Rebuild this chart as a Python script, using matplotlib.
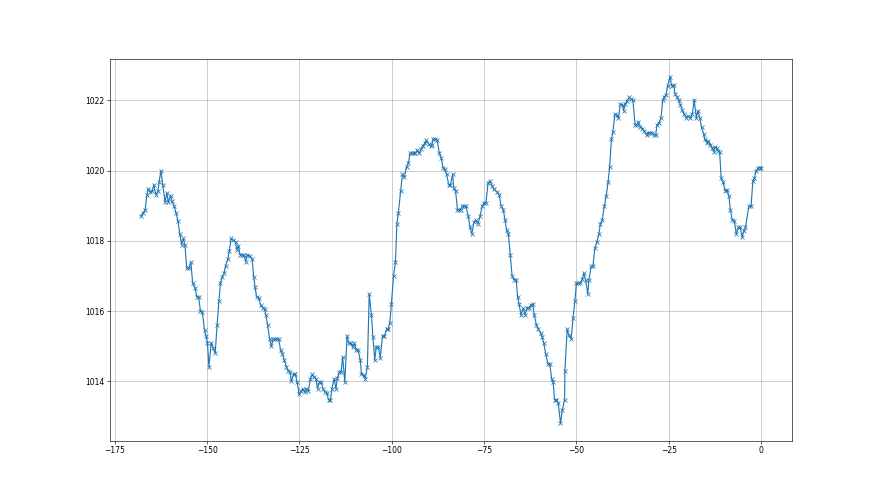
import matplotlib
matplotlib.use("Agg")
import matplotlib.pyplot as plt

# hours relative to now
hours = [
    -167.9, -167.4, -166.8, -166.3, -165.9, -165.4, -164.9, -164.4, -163.9, -163.3,
    -163.0, -162.5, -162.0, -161.4, -160.9, -160.5, -159.9, -159.5, -158.9, -158.4,
    -157.9, -157.4, -156.9, -156.4, -156.0, -155.5, -155.0, -154.4, -153.9, -153.3,
    -152.8, -152.3, -151.8, -151.3, -150.7, -150.3, -149.9, -149.5, -148.9, -148.4,
    -147.8, -147.3, -146.8, -146.4, -145.9, -145.4, -145.0, -144.4, -144.0, -143.5,
    -142.9, -142.3, -142.0, -141.5, -141.1, -140.5, -140.1, -139.5, -139.1, -138.5,
    -137.8, -137.4, -137.0, -136.6, -136.0,
    -135.5, -134.8, -134.4, -134.1, -133.6, -133.1, -132.6, -132.1, -131.6, -131.0,
    -130.6, -130.1, -129.6, -129.1, -128.5, -128.0, -127.5, -127.2, -126.6, -126.1,
    -125.6, -125.1, -124.5, -124.1, -123.6, -123.1, -122.6, -122.0, -121.5, -121.0,
    -120.5, -120.1, -119.6, -119.1, -118.6, -118.1, -117.6, -117.1, -116.6, -116.2,
    -115.6, -115.1, -114.7, -114.2, -113.7, -113.3, -112.7, -112.1, -111.6, -111.0,
    -110.6, -110.1, -109.6, -109.1, -108.5, -108.2, -107.6, -107.2, -106.6, -106.1,
    -105.5, -105.1, -104.6, -104.2, -103.6,
    -103.1, -102.5, -102.0, -101.4, -101.0, -100.5, -100.1, -99.5, -99.0, -98.6,
    -98.2, -97.6, -97.1, -96.6, -96.0, -95.5, -95.0, -94.5, -94.0, -93.6,
    -93.1, -92.6, -92.0, -91.6, -90.9, -90.6, -90.0, -89.5, -89.1, -88.8,
    -88.2, -87.7, -87.1, -86.6, -86.1, -85.7, -85.1, -84.6, -84.1, -83.5,
    -83.2, -82.7, -82.2, -81.9, -81.3, -80.9, -80.4, -79.9, -79.3, -78.8,
    -78.3, -77.7, -77.2, -76.6, -76.1, -75.5, -75.0, -74.5, -73.9, -73.4,
    -72.8, -72.4,
    -71.4, -70.9, -70.4, -69.8, -69.3, -68.9, -68.4, -67.9, -67.4, -66.8,
    -66.3, -65.9, -65.5, -65.0, -64.4, -63.9, -63.3, -62.8, -62.3, -61.8,
    -61.4, -60.8, -60.3, -59.7, -59.3, -58.8, -58.3, -57.7, -57.2, -56.7,
    -56.3, -55.9, -55.4, -54.9, -54.3, -53.8, -53.2, -53.1, -52.5, -52.0,
    -51.4, -50.9, -50.4, -50.0, -49.5, -48.9, -48.4, -48.0, -47.5, -46.9,
    -46.6, -46.0, -45.5, -45.0, -44.4, -43.9, -43.5, -43.0, -42.4, -41.9,
    -41.4, -41.0, -40.5, -40.1, -39.6, -39.1,
    -38.6, -38.1, -37.5, -37.2, -36.8, -36.3, -35.7, -35.2, -34.7, -34.1,
    -33.7, -33.2, -32.7, -32.1, -31.6, -31.0, -30.6, -30.1, -29.5, -29.0,
    -28.5, -28.2, -27.6, -27.1, -26.6, -26.2, -25.7, -25.3, -24.6, -24.2,
    -23.6, -23.3, -22.7, -22.3, -21.8, -21.3, -20.8, -20.2, -19.7, -19.1,
    -18.6, -18.1, -17.5, -17.1, -16.6, -16.1, -15.5, -15.2, -14.6, -14.3,
    -13.7, -13.2, -12.8, -12.5, -12.0, -11.6, -11.2, -10.8, -10.3, -9.7,
    -9.2, -8.7, -8.3, -7.8, -7.2, -6.7, -6.1, -5.6, -5.1, -4.7,
    -4.2, -3.3, -2.7, -2.2, -1.8, -1.3, -0.7, -0.2, 0.0,
]

# pressure (hPa)
pressure = [
    1018.70, 1018.79, 1018.87, 1019.31, 1019.48, 1019.39, 1019.41, 1019.59, 1019.31, 1019.41,
    1019.67, 1020.00, 1019.60, 1019.10, 1019.36, 1019.10, 1019.29, 1019.12, 1018.98, 1018.79,
    1018.57, 1018.20, 1017.89, 1018.07, 1017.87, 1017.22, 1017.22, 1017.39, 1016.79, 1016.67,
    1016.41, 1016.41, 1016.00, 1015.98, 1015.46, 1015.30, 1015.10, 1014.41, 1015.10, 1014.96,
    1014.81, 1015.60, 1016.29, 1016.79, 1016.98, 1017.08, 1017.29, 1017.48, 1017.70, 1018.07,
    1018.01, 1017.98, 1017.74, 1017.86, 1017.61, 1017.60, 1017.60, 1017.41, 1017.60, 1017.57,
    1017.48, 1016.98, 1016.68, 1016.41, 1016.38,
    1016.17, 1016.08, 1016.05, 1015.89, 1015.60, 1015.22, 1015.00, 1015.20, 1015.20, 1015.20,
    1015.20, 1014.89, 1014.79, 1014.60, 1014.41, 1014.30, 1014.26, 1014.00, 1014.20, 1014.20,
    1013.98, 1013.63, 1013.72, 1013.79, 1013.70, 1013.79, 1013.72, 1014.08, 1014.20, 1014.12,
    1014.08, 1013.79, 1013.98, 1013.98, 1013.79, 1013.70, 1013.67, 1013.48, 1013.48, 1013.79,
    1014.08, 1013.79, 1014.10, 1014.27, 1014.27, 1014.70, 1013.98, 1015.29, 1015.08, 1015.08,
    1014.98, 1015.08, 1014.90, 1014.89, 1014.60, 1014.22, 1014.17, 1014.08, 1014.41, 1016.48,
    1015.89, 1015.27, 1014.60, 1014.98, 1014.98,
    1014.68, 1015.29, 1015.29, 1015.48, 1015.48, 1015.67, 1016.20, 1017.00, 1017.39, 1018.49,
    1018.79, 1019.41, 1019.89, 1019.81, 1020.10, 1020.22, 1020.49, 1020.49, 1020.49, 1020.50,
    1020.58, 1020.49, 1020.62, 1020.71, 1020.79, 1020.86, 1020.76, 1020.70, 1020.74, 1020.89,
    1020.89, 1020.87, 1020.49, 1020.36, 1020.08, 1020.03, 1019.89, 1019.60, 1019.60, 1019.89,
    1019.50, 1019.41, 1018.89, 1018.89, 1018.89, 1018.98, 1018.98, 1018.98, 1018.71, 1018.39,
    1018.20, 1018.55, 1018.58, 1018.49, 1018.70, 1018.98, 1019.08, 1019.08, 1019.65, 1019.70,
    1019.57, 1019.48,
    1019.38, 1019.31, 1019.00, 1018.89, 1018.58, 1018.30, 1018.20, 1017.60, 1017.00, 1016.89,
    1016.89, 1016.41, 1016.20, 1015.89, 1016.08, 1015.90, 1016.10, 1016.10, 1016.17, 1016.20,
    1015.89, 1015.60, 1015.48, 1015.38, 1015.27, 1015.08, 1014.79, 1014.50, 1014.50, 1014.08,
    1013.98, 1013.48, 1013.48, 1013.38, 1012.81, 1013.19, 1013.48, 1014.29, 1015.48, 1015.31,
    1015.22, 1015.81, 1016.29, 1016.79, 1016.79, 1016.79, 1016.90, 1017.08, 1016.89, 1016.49,
    1016.89, 1017.27, 1017.29, 1017.79, 1017.98, 1018.20, 1018.48, 1018.60, 1019.00, 1019.29,
    1019.67, 1020.10, 1020.89, 1021.10, 1021.60, 1021.57,
    1021.49, 1021.89, 1021.87, 1021.70, 1021.90, 1021.98, 1022.08, 1022.03, 1022.01, 1021.30,
    1021.30, 1021.39, 1021.25, 1021.19, 1021.12, 1021.01, 1021.08, 1021.08, 1021.08, 1021.01,
    1021.01, 1021.29, 1021.36, 1021.49, 1022.00, 1022.10, 1022.15, 1022.41, 1022.67, 1022.41,
    1022.44, 1022.19, 1022.08, 1022.00, 1021.87, 1021.71, 1021.60, 1021.50, 1021.55, 1021.49,
    1021.60, 1022.00, 1021.50, 1021.70, 1021.50, 1021.24, 1021.03, 1020.89, 1020.79, 1020.84,
    1020.74, 1020.65, 1020.53, 1020.67, 1020.63, 1020.55, 1020.53, 1019.79, 1019.68, 1019.43,
    1019.46, 1019.27, 1018.89, 1018.60, 1018.57, 1018.19, 1018.38, 1018.38, 1018.10, 1018.27,
    1018.38, 1018.98, 1018.98, 1019.70, 1019.79, 1020.00, 1020.08, 1020.08, 1020.08,
]

fig, ax = plt.subplots(figsize=(16, 9), dpi=55)
ax.plot(hours, pressure, marker="x", color="#1f77b4")
ax.grid(True)
fig.savefig("out.png", dpi=55)
